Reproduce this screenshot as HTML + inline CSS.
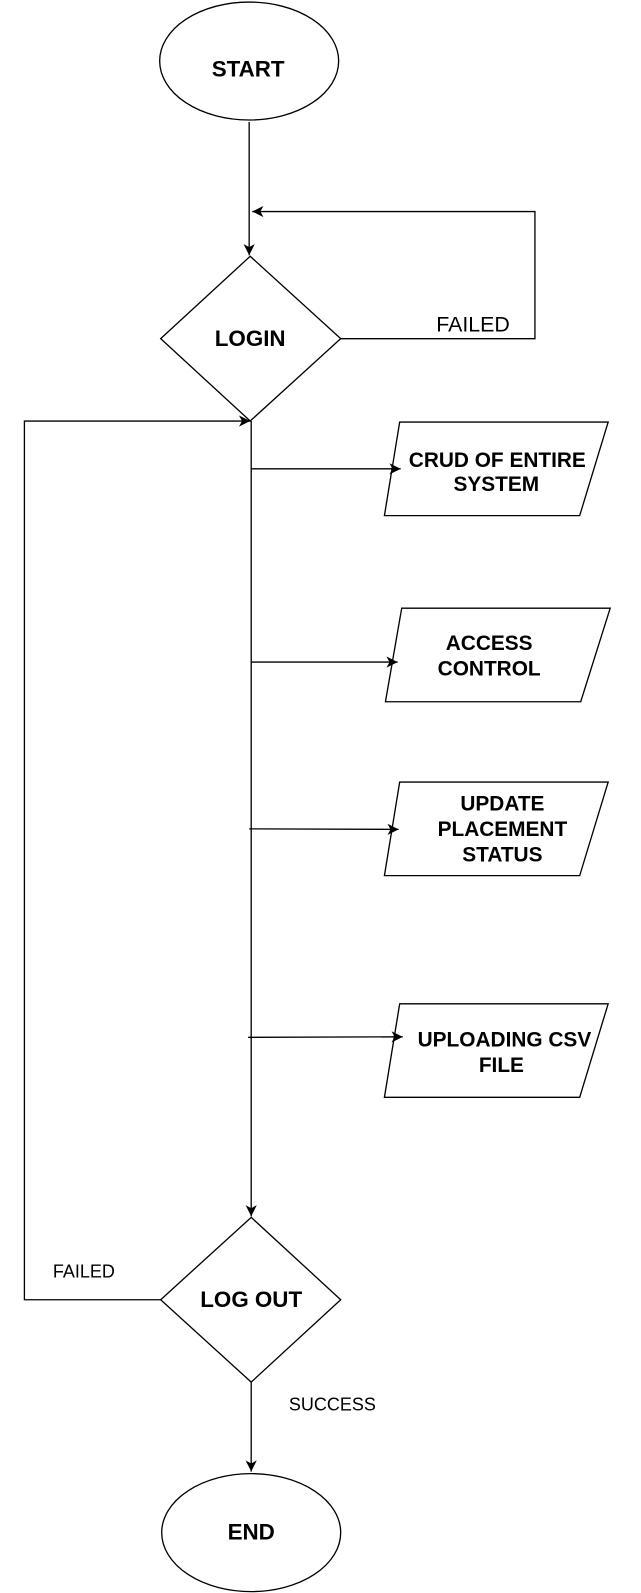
<!DOCTYPE html>
<html><head><meta charset="utf-8"><style>html,body{margin:0;padding:0;background:#fff}svg{display:block}</style></head>
<body>
<svg width="641" height="1593" viewBox="0 0 641 1593" xmlns="http://www.w3.org/2000/svg" font-family="Liberation Sans, sans-serif">
<defs><marker id="a" markerWidth="12" markerHeight="12" refX="11" refY="5.5" orient="auto" markerUnits="userSpaceOnUse"><path d="M0,0 L11,5.5 L0,11 L3,5.5 z" fill="#000"/></marker></defs>
<g transform="scale(1.017)">
<g fill="none" stroke="#000" stroke-width="1.3">
<ellipse cx="245" cy="60" rx="88" ry="58"/>
<line x1="245" y1="120" x2="245" y2="251" marker-end="url(#a)"/>
<polygon points="246,252 335,333 246,414 158,333"/>
<polyline points="335,333 526,333 526,208 248,208" marker-end="url(#a)"/>
<line x1="247" y1="414" x2="247" y2="1196" marker-end="url(#a)"/>
<polyline points="158,1278 24,1278 24,414 246,414" marker-end="url(#a)"/>
<line x1="247" y1="461" x2="394" y2="461" marker-end="url(#a)"/>
<line x1="247" y1="651" x2="391" y2="651" marker-end="url(#a)"/>
<line x1="245" y1="815" x2="392" y2="815.5" marker-end="url(#a)"/>
<line x1="244" y1="1020" x2="396" y2="1019.5" marker-end="url(#a)"/>
<polygon points="393,415 598,415 570,507 378,507"/>
<polygon points="395,598 600,598 571,690 379,690"/>
<polygon points="393,769 598,769 570,861 378,861"/>
<polygon points="393,987 598,987 570,1079 378,1079"/>
<polygon points="247,1197 335,1278 247,1359 158,1278"/>
<line x1="247" y1="1359" x2="247" y2="1447" marker-end="url(#a)"/>
<ellipse cx="247" cy="1507" rx="88" ry="58"/>
</g>
<g font-weight="bold" font-size="22" text-anchor="middle" fill="#000">
<text x="244" y="75">START</text>
<text x="246" y="340">LOGIN</text>
<text x="247" y="1285">LOG OUT</text>
<text x="247" y="1514">END</text>
</g>
<g font-weight="bold" font-size="20.5" text-anchor="middle" fill="#000">
<text x="489" y="459">CRUD OF ENTIRE</text>
<text x="488" y="483">SYSTEM</text>
<text x="481" y="639">ACCESS</text>
<text x="481" y="664">CONTROL</text>
<text x="494" y="797">UPDATE</text>
<text x="494" y="822">PLACEMENT</text>
<text x="494" y="847">STATUS</text>
<text x="496" y="1029">UPLOADING CSV</text>
<text x="493" y="1054">FILE</text>
</g>
<g font-size="21" fill="#000">
<text x="429" y="326">FAILED</text>
</g>
<g font-size="17.7" fill="#000">
<text x="52" y="1256">FAILED</text>
<text x="284" y="1387">SUCCESS</text>
</g>
</g>
</svg>
</body></html>
